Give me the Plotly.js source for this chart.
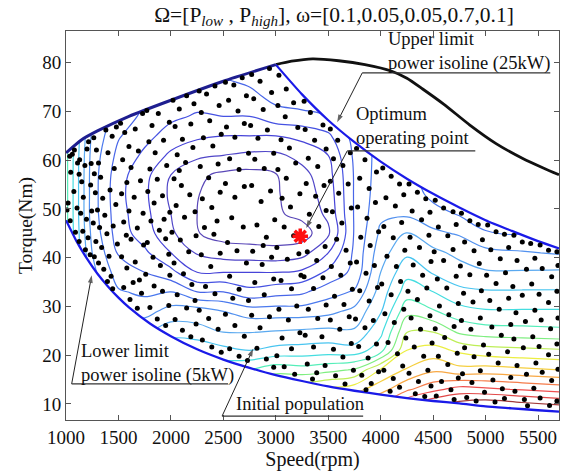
<!DOCTYPE html>
<html>
<head>
<meta charset="utf-8">
<script src="https://cdn.plot.ly/plotly-3.0.1.min.js"></script>
<style>html,body{margin:0;padding:0;background:#fff;}#chart{width:579px;height:472px;}</style>
</head>
<body>
<div id="chart"></div>
<script>
// ---------- axis ticks ----------
const speedTicks = [1000, 1500, 2000, 2500, 3000, 3500, 4000, 4500, 5000, 5500];
const torqueTicks = [10, 20, 30, 40, 50, 60, 70, 80];
const speedRange = [1000, 5700];
const torqueRange = [6.7, 86.5];

// ---------- boundary curves ----------
const maxTorqueRpm = [1000, 1150, 1300, 1600, 2000, 2500, 3000];
const maxTorqueNm  = [61.5, 64.2, 66.0, 69.0, 72.3, 76.2, 79.6];

const upper25Rpm = [3000, 3250, 3500, 3750, 4000, 4250, 4500, 4750, 5000, 5250, 5500, 5700];
const upper25Nm  = [79.6, 73.5, 68.2, 63.7, 59.7, 56.2, 53.1, 50.3, 47.7, 45.5, 43.4, 41.9];

const lower5Rpm = [1000, 1100, 1200, 1300, 1400, 1500, 1600, 1800, 2000, 2250, 2500, 2750, 3000, 3250, 3500, 3750, 4000, 4250, 4500, 4750, 5000, 5250, 5500, 5700];
const lower5Nm  = [47.7, 43.4, 39.8, 36.7, 34.1, 31.8, 29.8, 26.5, 23.9, 21.2, 19.1, 17.4, 15.9, 14.7, 13.6, 12.7, 11.9, 11.2, 10.6, 10.1, 9.5, 9.1, 8.7, 8.4];

const envelopeRpm = [3000, 3150, 3350, 3600, 3850, 4100, 4250, 4400, 4600, 4850, 5100, 5350, 5550, 5700];
const envelopeNm  = [79.6, 80.3, 80.8, 80.4, 79.6, 78.3, 76.8, 74.6, 71.5, 67.2, 63.4, 60.4, 58.4, 57.0];

// ---------- objective level grid (estimated from contour picture) ----------
const gridRpm = [1000, 1250, 1500, 1750, 2000, 2250, 2500, 2750, 3000, 3250, 3500, 3750, 4000, 4250, 4500, 4750, 5000, 5350, 5700];
const gridNm  = [5, 9, 13, 17, 21, 25, 29, 33, 37, 41, 45, 49, 53, 57, 61, 65, 69, 73, 77, 81, 88];
// one column per gridRpm value, listed along gridNm
const levelColumns = [
  [12.5, 12.3, 12, 12, 11.8, 11.6, 11.5, 11.4, 11.3, 11.3, 11.3, 11.3, 11.3, 11.3, 11.3, 11.4, 11.5, 11.6, 11.8, 12, 12],
  [10.5, 10.2, 10, 9.5, 9, 8.5, 8, 7.6, 7.3, 7.0, 6.7, 6.5, 6.5, 6.5, 6.6, 6.8, 7.1, 7.4, 7.7, 8, 8.5],
  [11, 10.5, 10, 9.2, 8.5, 7.7, 6.8, 6.1, 5.5, 4.9, 4.5, 4.4, 4.3, 4.4, 4.7, 5.1, 5.5, 5.8, 6.1, 6.4, 7],
  [12, 11.5, 11, 10, 9, 7.8, 6.6, 5.8, 5, 4.2, 3.5, 3.3, 3.2, 3.3, 3.8, 4.3, 4.8, 5.1, 5.4, 5.7, 6],
  [13, 12.5, 12, 11, 9.8, 8.5, 7.4, 6, 4.3, 3, 2.2, 2, 1.8, 2, 2.8, 3.6, 4.2, 4.6, 4.9, 5.2, 5.6],
  [13.5, 13, 12, 11, 9.8, 8.3, 7.5, 5, 3, 1.9, 1.05, 1.0, 1.05, 1.2, 2.2, 3.2, 3.9, 4.4, 4.7, 5, 5.5],
  [14, 13, 12, 10.7, 9.3, 7.9, 7, 5, 3, 1.5, 0.6, 0.5, 0.5, 0.8, 2, 3, 4, 4.5, 5, 5.3, 5.8],
  [14.5, 13.8, 13, 11, 9, 7.9, 6.5, 4.3, 3, 1.4, 0.5, 0.3, 0.3, 0.7, 1.8, 3, 4, 4.7, 5.3, 5.6, 6],
  [15, 14.3, 13.5, 11.6, 9.3, 8, 6.5, 4.6, 3, 1.3, 0.5, 0.85, 0.9, 0.95, 1.8, 3, 4.6, 5.3, 5.8, 6.1, 6.5],
  [15.8, 14.8, 13.8, 11.4, 9.4, 8.1, 6.5, 4.8, 3.2, 1.6, 0.5, 1.3, 1.5, 1.7, 2.3, 3.3, 4.7, 5.6, 6, 6.3, 6.6],
  [16.5, 15.3, 14.2, 11.7, 9.5, 8.2, 6.7, 5.6, 4.2, 3.0, 1.8, 2.2, 2.4, 2.6, 3.0, 3.8, 5, 5.5, 5.8, 6, 6.3],
  [17.5, 16.5, 14.6, 12.1, 9.4, 8.1, 7.3, 6.1, 5.3, 5.2, 5.1, 5.1, 5.1, 5.1, 5.2, 5.4, 5.6, 5.8, 6, 6.2, 6.4],
  [19, 17.5, 15.6, 14.1, 10.6, 9.7, 8.9, 8.45, 8, 7.6, 7.2, 6.8, 6.6, 6.5, 6.4, 6.3, 6.3, 6.3, 6.3, 6.3, 6.3],
  [21, 19.5, 16.8, 15.1, 14, 12.9, 11.7, 10.5, 9.7, 8.8, 8.1, 6.8, 6.6, 6.5, 6.4, 6.3, 6.3, 6.3, 6.3, 6.3, 6.3],
  [22, 20.5, 17.7, 15.8, 14.4, 12.9, 11.1, 10, 8.9, 8.3, 7.2, 6.4, 5.7, 5.3, 5.1, 5, 5, 5, 5, 5, 5],
  [22.5, 21, 18.4, 15.3, 13.8, 11.7, 10.4, 9.2, 8.5, 7.7, 6.9, 5.9, 5.4, 5.1, 5, 5, 5, 5, 5, 5, 5],
  [23, 21.5, 18.2, 15.4, 13.4, 11.4, 10.1, 9.1, 8.1, 7.3, 6.1, 5.4, 5.2, 5, 5, 5, 5, 5, 5, 5, 5],
  [23, 21, 17.9, 15.2, 13.25, 11.3, 10.1, 9.1, 8.1, 7.1, 6.0, 5.6, 5.4, 5.3, 5.2, 5.2, 5.2, 5.2, 5.2, 5.2, 5.2],
  [23, 20.6, 17.6, 15, 13.1, 11.2, 10.1, 9.1, 8.15, 6.9, 6.3, 6, 5.8, 5.7, 5.6, 5.6, 5.6, 5.6, 5.6, 5.6, 5.6]
];

// ---------- initial population (rpm, Nm) ----------
const population = [
 [1010,49.8],[1035,60.8],[1045,57.5],[1060,61.2],[1020,51.2],[1075,53.6],[1040,47.6],[1090,45.2],[1110,59.4],[1130,60.1],[1125,57.1],[1150,55.6],[1105,50.2],[1140,49.1],[1180,58.9],[1165,52.4],[1195,47.9],[1160,45.4],[1210,44.1],[1125,43.3],[1185,41.6],[1230,40.6],[1215,63.8],[1240,59.3],[1235,54.9],[1245,49.6],[1200,62.3],[1080,62.1],
 [1265,64.6],[1290,62.1],[1310,59.4],[1270,57.2],[1330,56.5],[1280,53.3],[1350,52.2],[1300,49.8],[1260,47.1],[1320,46.2],[1370,48.7],[1285,43.3],[1340,42.1],[1390,44.9],[1310,38.9],[1360,37.6],[1410,40.3],[1430,36.2],[1450,46.5],[1420,53.9],[1460,58.3],[1400,61.5],[1440,64.9],[1480,66.8],[1380,66.2],[1475,50.9],[1490,42.8],[1445,33.6],[1395,35.1],[1270,40.2],
 [1520,67.6],[1560,65.7],[1600,62.8],[1540,60.1],[1620,58.5],[1580,55.4],[1530,53.1],[1650,52.4],[1600,49.6],[1550,47.3],[1680,46.1],[1620,43.8],[1530,40.2],[1580,37.9],[1660,39.1],[1700,35.4],[1550,33.9],[1610,31.4],[1680,29.6],[1720,32.7],[1740,42.6],[1710,55.8],[1690,61.9],[1660,66.4],[1730,69.6],[1735,49.1],[1575,44.6],[1640,34.9],
 [1770,70.2],[1820,67.1],[1880,69.6],[1790,63.8],[1850,61.5],[1930,64.1],[1800,58.2],[1870,56.1],[1960,58.9],[1780,53.6],[1840,51.2],[1920,52.7],[1990,49.3],[1810,47.5],[1890,45.6],[1950,43.9],[1775,43.1],[1830,40.1],[1900,38.4],[1980,40.7],[1760,36.6],[1840,34.2],[1920,33.1],[1980,30.2],[1800,29.8],[1870,27.4],[1950,26.1],[1990,36.4],[1935,47.9],[1985,67.8],
 [2020,72.3],[2080,70.5],[2150,73.2],[2220,71.6],[2040,66.9],[2110,64.3],[2190,67.4],[2060,61.1],[2140,59.5],[2210,62.6],[2030,56.2],[2100,54.8],[2180,52.9],[2050,50.7],[2130,48.3],[2230,49.4],[2010,45.2],[2090,43.6],[2170,41.2],[2240,44.5],[2030,38.9],[2120,36.7],[2200,34.5],[2060,32.4],[2150,29.7],[2230,31.2],[2040,27.3],[2110,25.1],[2190,23.8],[2240,26.4],[2080,57.9],
 [2270,74.2],[2340,73.6],[2420,75.2],[2290,69.8],[2370,68.1],[2460,71.2],[2310,64.6],[2400,62.9],[2480,65.3],[2280,58.7],[2360,56.4],[2450,59.2],[2300,52.1],[2390,50.3],[2470,53.4],[2320,46.2],[2410,44.8],[2290,40.6],[2380,38.2],[2470,40.9],[2330,34.1],[2420,32.6],[2270,29.2],[2360,27.5],[2450,25.3],[2300,23.1],[2390,21.7],[2480,20.6],[2440,47.5],
 [2520,76.0],[2600,75.4],[2680,76.9],[2550,72.3],[2640,70.1],[2720,73.2],[2530,66.8],[2610,64.7],[2700,67.5],[2560,60.3],[2650,58.1],[2740,61.4],[2520,55.2],[2610,52.4],[2700,54.6],[2580,48.2],[2690,46.3],[2540,43.1],[2630,41.4],[2720,38.9],[2560,36.2],[2650,33.5],[2740,31.2],[2520,28.4],[2610,26.1],[2700,23.9],[2560,21.3],[2650,19.8],[2730,18.9],[2590,31.7],
 [2770,77.6],[2850,76.2],[2940,78.8],[2790,72.6],[2880,70.4],[2960,73.9],[2760,67.1],[2830,64.5],[2920,66.2],[2800,60.2],[2890,58.3],[2980,61.4],[2770,54.8],[2860,51.5],[2950,53.7],[2820,46.7],[2910,44.2],[2990,47.8],[2780,41.3],[2870,38.6],[2960,40.1],[2800,34.9],[2890,32.4],[2980,35.6],[2770,28.2],[2850,25.6],[2940,27.9],[2820,21.4],[2910,19.2],[2980,17.5],[2880,42.5],
 [3030,77.4],[3100,74.6],[3020,71.2],[3090,68.9],[3170,71.8],[3050,64.2],[3130,62.5],[3210,66.7],[3020,58.1],[3100,56.3],[3190,59.4],[3060,52.2],[3140,50.4],[3230,53.1],[3080,46.3],[3170,44.5],[3010,42.1],[3110,39.7],[3220,40.8],[3050,35.3],[3150,33.6],[3240,36.4],[3030,29.4],[3120,27.2],[3200,30.1],[3060,23.5],[3150,21.3],[3230,24.6],[3080,17.6],[3180,16.1],[3010,19.9],
 [3270,72.1],[3330,69.8],[3280,66.3],[3370,64.1],[3450,67.2],[3310,60.4],[3400,58.7],[3480,62.3],[3290,55.2],[3380,52.6],[3460,54.8],[3320,48.9],[3410,46.4],[3480,49.7],[3300,41.2],[3390,39.4],[3470,42.3],[3270,36.1],[3360,33.7],[3450,35.9],[3310,29.4],[3400,27.5],[3480,30.3],[3280,24.1],[3360,21.7],[3440,23.8],[3300,18.2],[3390,16.4],[3470,17.9],[3350,15.1],
 [3520,66.4],[3590,64.1],[3550,60.3],[3640,58.9],[3710,61.5],[3520,55.7],[3600,53.2],[3690,55.1],[3540,49.4],[3630,47.1],[3720,50.2],[3580,43.8],[3670,41.5],[3530,38.2],[3620,36.4],[3710,38.9],[3560,32.1],[3650,30.4],[3730,33.5],[3520,27.2],[3610,25.3],[3700,27.9],[3550,21.2],[3640,19.6],[3720,22.4],[3570,15.8],[3660,14.1],[3740,16.9],
 [3770,62.4],[3850,60.1],[3800,56.3],[3890,54.2],[3960,57.6],[3780,50.4],[3870,48.1],[3950,51.3],[3810,44.2],[3900,42.5],[3980,45.3],[3770,39.1],[3860,36.8],[3940,38.4],[3800,33.2],[3890,31.1],[3970,33.9],[3760,27.4],[3850,25.6],[3930,27.1],[3790,21.8],[3880,19.4],[3960,22.3],[3820,15.9],[3910,14.2],[3980,16.6],[3860,12.9],
 [4020,58.4],[4100,56.7],[4180,55.1],[4050,52.3],[4140,50.6],[4220,52.9],[4030,46.4],[4120,44.1],[4200,47.2],[4060,40.3],[4150,38.2],[4230,41.5],[4010,34.6],[4100,32.4],[4190,35.1],[4040,28.5],[4130,26.7],[4220,29.4],[4070,22.6],[4160,20.3],[4240,23.5],[4030,16.9],[4120,15.2],[4210,17.8],[4090,12.6],[4180,13.4],
 [4270,55.1],[4350,53.4],[4430,52.1],[4300,49.6],[4390,47.8],[4470,49.3],[4280,44.2],[4370,42.1],[4460,44.6],[4310,38.5],[4400,36.4],[4480,39.2],[4260,33.1],[4350,31.4],[4440,33.8],[4290,27.6],[4380,25.3],[4470,28.1],[4320,21.7],[4410,19.8],[4490,22.5],[4270,16.3],[4360,14.6],[4450,16.9],[4330,12.1],[4420,11.5],[4480,13.7],
 [4520,51.8],[4600,50.2],[4690,49.4],[4550,46.3],[4640,44.5],[4720,46.8],[4510,41.2],[4600,39.4],[4690,41.7],[4540,35.6],[4630,33.8],[4720,36.2],[4560,30.1],[4650,28.3],[4740,30.6],[4520,25.4],[4610,23.6],[4700,25.9],[4550,19.8],[4640,18.1],[4730,20.4],[4580,14.6],[4670,12.9],[4740,15.3],[4530,11.6],[4700,10.9],
 [4770,49.1],[4850,47.6],[4930,46.8],[4800,43.2],[4890,41.4],[4970,43.7],[4760,38.3],[4850,36.5],[4940,38.8],[4790,32.7],[4880,30.9],[4960,33.2],[4770,27.1],[4860,25.3],[4950,27.6],[4800,21.5],[4890,19.7],[4980,22.1],[4780,16.2],[4870,14.4],[4950,16.8],[4820,11.3],[4910,10.6],[4990,12.4],
 [5020,46.7],[5100,45.3],[5180,44.8],[5050,41.6],[5140,39.8],[5220,42.1],[5010,36.4],[5100,34.7],[5190,36.9],[5040,31.2],[5130,29.4],[5220,31.7],[5060,25.8],[5150,24.1],[5240,26.3],[5030,20.2],[5120,18.4],[5210,20.7],[5070,14.9],[5160,13.1],[5240,15.4],[5090,10.4],[5180,11.1],
 [5270,44.6],[5350,43.2],[5430,42.9],[5300,39.4],[5390,37.6],[5470,39.9],[5260,34.1],[5350,32.3],[5440,34.6],[5290,28.7],[5380,26.9],[5470,29.2],[5270,23.3],[5360,21.5],[5450,23.8],[5300,17.9],[5390,16.1],[5480,18.4],[5280,12.6],[5370,10.9],[5460,13.2],[5400,9.6],
 [5520,42.6],[5600,41.5],[5680,41.2],[5540,37.8],[5630,36.1],[5690,38.4],[5510,32.5],[5600,30.8],[5680,33.1],[5530,27.2],[5620,25.4],[5690,27.6],[5510,21.8],[5600,20.1],[5680,22.3],[5540,16.5],[5630,14.8],[5690,17.1],[5520,11.2],[5610,9.7],[5680,10.6]
];
const optimumRpm = [3233];
const optimumNm = [44.4];

// ---------- callout texts ----------
const labelTexts = ['Upper limit<br>power isoline (25kW)', 'Optimum<br>operating point', 'Lower limit<br>power isoline (5kW)', 'Initial population'];

// ====================================================================
const serif = 'Liberation Serif';
const levelGrid = gridNm.map((_, i) => levelColumns.map(col => col[i]));
const popRpm = population.map(p => p[0]);
const popNm = population.map(p => p[1]);

const xPad = 200, yPadLow = 0, yPadHigh = 100;
const upperMaskX = maxTorqueRpm.concat(upper25Rpm.slice(1), [speedRange[1] + xPad, speedRange[1] + xPad, speedRange[0] - xPad, speedRange[0] - xPad]);
const upperMaskY = maxTorqueNm.concat(upper25Nm.slice(1), [upper25Nm[upper25Nm.length - 1], yPadHigh, yPadHigh, maxTorqueNm[0]]);
const lowerMaskX = lower5Rpm.concat([speedRange[1] + xPad, speedRange[1] + xPad, speedRange[0] - xPad, speedRange[0] - xPad]);
const lowerMaskY = lower5Nm.concat([lower5Nm[lower5Nm.length - 1], yPadLow, yPadLow, lower5Nm[0]]);

function leaderTrace(xTail, yTail, xTip, yTip) {
  return {type: 'scatter', mode: 'lines+markers', x: [xTail, xTip], y: [yTail, yTip],
          line: {color: '#222', width: 1},
          marker: {symbol: 'arrow', size: [0, 8], angleref: 'previous', color: '#222', line: {width: 0}},
          hoverinfo: 'skip', cliponaxis: false};
}

const traces = [
  {
    type: 'contour', x: gridRpm, y: gridNm, z: levelGrid,
    autocontour: false,
    contours: {start: 1, end: 20, size: 1, coloring: 'lines'},
    zmin: 1, zmax: 20,
    colorscale: [[0,'#5a48b8'],[0.12,'#4444dd'],[0.26,'#4a78ee'],[0.37,'#5aaaf0'],[0.45,'#3fd4f0'],[0.52,'#50eec0'],[0.58,'#80ee80'],[0.64,'#c8ee50'],[0.69,'#f0ee40'],[0.76,'#f8c040'],[0.82,'#f89048'],[0.89,'#f05050'],[0.95,'#e04848'],[1,'#a03838']],
    line: {width: 1.2, smoothing: 1.1},
    showscale: false, hoverinfo: 'skip'
  },
  {type: 'scatter', mode: 'lines', x: upperMaskX, y: upperMaskY, fill: 'toself', fillcolor: '#ffffff', line: {width: 0, color: 'rgba(0,0,0,0)'}, hoverinfo: 'skip'},
  {type: 'scatter', mode: 'lines', x: lowerMaskX, y: lowerMaskY, fill: 'toself', fillcolor: '#ffffff', line: {width: 0, color: 'rgba(0,0,0,0)'}, hoverinfo: 'skip'},
  {type: 'scatter', mode: 'lines', x: envelopeRpm, y: envelopeNm, line: {color: '#111111', width: 2.8, shape: 'spline', smoothing: 0.6}, hoverinfo: 'skip'},
  {type: 'scatter', mode: 'lines', x: upper25Rpm, y: upper25Nm, line: {color: '#1a1ae8', width: 2.2, shape: 'spline', smoothing: 0.6}, hoverinfo: 'skip'},
  {type: 'scatter', mode: 'lines', x: lower5Rpm, y: lower5Nm, line: {color: '#1a1ae8', width: 2.3, shape: 'spline', smoothing: 0.6}, hoverinfo: 'skip'},
  {type: 'scatter', mode: 'lines', x: maxTorqueRpm, y: maxTorqueNm, line: {color: '#1e1e90', width: 3, shape: 'spline', smoothing: 0.6}, hoverinfo: 'skip'},
  {type: 'scatter', mode: 'markers', x: popRpm, y: popNm, marker: {color: '#000000', size: 5}, hoverinfo: 'skip'},
  {type: 'scatter', mode: 'markers', x: optimumRpm, y: optimumNm, marker: {symbol: 'asterisk-open', size: 13, color: '#ff1010', line: {color: '#ff1010', width: 3.5}}, hoverinfo: 'skip'},
  leaderTrace(3824, 77.9, 3585, 67.8),
  leaderTrace(3681, 61.9, 3290, 46.1),
  leaderTrace(1054, 14.1, 1245, 36.4),
  leaderTrace(2488, 7.5, 2784, 21.3)
];

const txtFont = {family: serif, size: 18.5, color: '#111'};
function label(i, x, y) {
  return {text: labelTexts[i], x: x, y: y, xref: 'x', yref: 'y', xanchor: 'left', yanchor: 'middle', align: 'left', showarrow: false, font: txtFont, borderpad: 0};
}
function underline(x0, x1, y) {
  return {type: 'line', xref: 'x', yref: 'y', x0: x0, x1: x1, y0: y, y1: y, line: {color: '#333', width: 1.2}};
}

const layout = {
  width: 579, height: 472,
  margin: {l: 66, r: 20, t: 31, b: 52},
  paper_bgcolor: '#ffffff', plot_bgcolor: '#ffffff',
  showlegend: false,
  font: {family: serif, color: '#111'},
  title: {
    text: 'Ω=[P<sub><i>low</i></sub> , P<sub><i>high</i></sub>], ω=[0.1,0.05,0.05,0.7,0.1]',
    font: {family: serif, size: 21.5, color: '#111'},
    x: 334 / 579, xref: 'container', xanchor: 'center', y: 1 - 14 / 472, yref: 'container', yanchor: 'middle'
  },
  xaxis: {
    range: speedRange, tickvals: speedTicks, ticktext: speedTicks.map(String),
    ticks: 'inside', ticklen: 5, tickcolor: '#555', mirror: 'ticks', showline: true, linecolor: '#555', linewidth: 1,
    showgrid: false, zeroline: false, tickfont: {family: serif, size: 19, color: '#111'},
    title: {text: 'Speed(rpm)', font: {family: serif, size: 20, color: '#111'}, standoff: 1}
  },
  yaxis: {
    range: torqueRange, tickvals: torqueTicks, ticktext: torqueTicks.map(String),
    ticks: 'inside', ticklen: 5, tickcolor: '#555', mirror: 'ticks', showline: true, linecolor: '#555', linewidth: 1,
    showgrid: false, zeroline: false, tickfont: {family: serif, size: 19, color: '#111'},
    title: {text: 'Torque(Nm)', font: {family: serif, size: 19.5, color: '#111'}, standoff: 4}
  },
  annotations: [
    label(0, 4062, 82.2),
    label(1, 3757, 67.0),
    label(2, 1134, 18.3),
    label(3, 2612, 10.0)
  ],
  shapes: [
    underline(3824, 5617, 77.9),
    underline(3681, 4902, 61.9),
    underline(1054, 2545, 14.1),
    underline(2488, 3833, 7.5)
  ]
};

Plotly.newPlot('chart', traces, layout, {staticPlot: true, displayModeBar: false});
</script>
</body>
</html>
